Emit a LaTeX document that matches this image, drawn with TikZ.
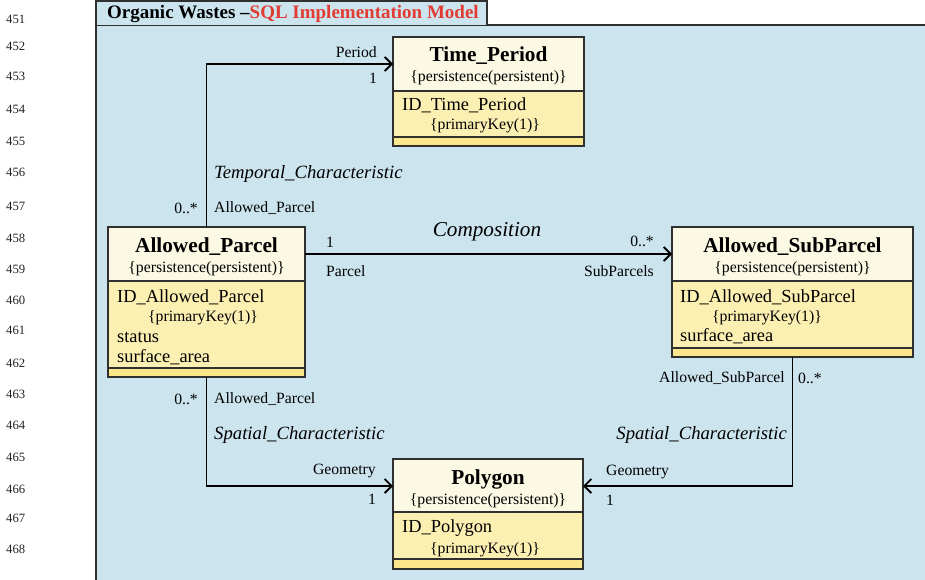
\documentclass[tikz,border=0pt]{standalone}
\usepackage{fontspec}
\setmainfont{Liberation Serif}
\usetikzlibrary{arrows.meta}
\definecolor{panelblue}{HTML}{CCE4EE}
\definecolor{headcream}{HTML}{FBF8E3}
\definecolor{attryellow}{HTML}{FCEFB2}
\definecolor{opsyellow}{HTML}{FCE68C}
\definecolor{edgegray}{HTML}{303030}
\definecolor{titlered}{HTML}{E23B33}
\definecolor{numgray}{HTML}{222222}
\tikzset{
  boxline/.style={draw=edgegray, line width=1.3pt},
  clsname/.style={font=\fontsize{21.3}{23}\selectfont\bfseries, inner sep=0pt, yshift=-1.5pt},
  stereo/.style={font=\fontsize{15.8}{17}\selectfont, inner sep=0pt, yshift=-1.5pt},
  attr/.style={font=\fontsize{18.4}{20}\selectfont, inner sep=0pt, anchor=west, yshift=-1.5pt},
  lbl/.style={font=\fontsize{15.7}{17}\selectfont, inner sep=0pt, yshift=-1.5pt},
  role/.style={font=\fontsize{18.7}{20}\selectfont\itshape, inner sep=0pt, yshift=-1.5pt},
  conn/.style={draw=black, line width=1.8pt, -{Straight Barb[length=7pt,width=14pt,line width=1.8pt]}},
  linenum/.style={font=\fontsize{12.7}{14}\selectfont, text=numgray, inner sep=0pt, anchor=west},
  frame/.style={inner sep=0pt, outer sep=0pt, anchor=north west}
}
% generic class drawer: #1 name, #2 x1, #3 y1, #4 x2, #5 y2, #6 div1, #7 div2
\newcommand{\umlbox}[7]{%
  \fill[headcream] (#2,#3) rectangle (#4,#6);
  \fill[attryellow] (#2,#6) rectangle (#4,#7);
  \fill[opsyellow] (#2,#7) rectangle (#4,#5);
  \draw[boxline] (#2,#6) -- (#4,#6);
  \draw[boxline] (#2,#7) -- (#4,#7);
  \draw[boxline] (#2,#3) rectangle (#4,#5);
  \node[frame, minimum width={#4-#2}, minimum height={#5-#3}] (#1) at (#2,#3) {};
}
\begin{document}
\begin{tikzpicture}[x=1pt,y=-1pt]
\useasboundingbox (0,0) rectangle (925,579);
\fill[white] (0,0) rectangle (925,579);
% line numbers
\foreach \n/\yy in {451/19,452/46,453/76,454/109,455/141,456/172,457/206,458/238,459/269,460/300,461/330,462/363,463/394,464/425,465/457,466/489,467/518,468/549}
  \node[linenum] (ln\n) at (6,\yy) {\n};
% panel
\fill[panelblue] (96,25) rectangle (930,585);
\draw[edgegray, line width=1.6pt] (96,585) -- (96,25) -- (930,25);
% title tab
\filldraw[fill=panelblue, draw=edgegray, line width=1.6pt] (96,25) -- (96,1) -- (487,1) -- (487,25);
\node[font=\fontsize{19}{21}\selectfont\bfseries, anchor=west, inner sep=0pt] (title) at (107,14)
  {Organic Wastes \textendash\textcolor{titlered}{SQL Implementation Model}};

% Time_Period
\umlbox{tp}{393}{37}{584}{146}{91}{137}
\node[clsname] (tpn) at (488.5,54) {Time\_Period};
\node[stereo] (tps) at (488.5,76) {\{persistence(persistent)\}};
\node[attr] (tpa) at (402,104) {ID\_Time\_Period};
\node[stereo] (tpk) at (485,124) {\{primaryKey(1)\}};

% Allowed_Parcel
\umlbox{ap}{108}{227}{305}{377}{281}{368}
\node[clsname] (apn) at (206.5,245) {Allowed\_Parcel};
\node[stereo] (aps) at (206.5,267) {\{persistence(persistent)\}};
\node[attr] (apa1) at (117,296) {ID\_Allowed\_Parcel};
\node[stereo] (apk) at (203,316) {\{primaryKey(1)\}};
\node[attr] (apa2) at (117,336) {status};
\node[attr] (apa3) at (117,356) {surface\_area};

% Allowed_SubParcel
\umlbox{as}{672}{227}{913}{357}{281}{348}
\node[clsname] (asn) at (792.5,245) {Allowed\_SubParcel};
\node[stereo] (ass) at (792.5,267) {\{persistence(persistent)\}};
\node[attr] (asa1) at (680,296) {ID\_Allowed\_SubParcel};
\node[stereo] (ask) at (767,316) {\{primaryKey(1)\}};
\node[attr] (asa2) at (680,335) {surface\_area};

% Polygon
\umlbox{pg}{393}{459}{583}{569}{512}{559}
\node[clsname] (pgn) at (488,478) {Polygon};
\node[stereo] (pgs) at (488,499) {\{persistence(persistent)\}};
\node[attr] (pga) at (402,527) {ID\_Polygon};
\node[stereo] (pgk) at (485,548) {\{primaryKey(1)\}};

% connectors
\draw[conn] (ap.north) |- ([yshift=-27pt]tp.north west);
\draw[conn] ([yshift=-27pt]ap.north east) -- ([yshift=-27pt]as.north west);
\draw[conn] (ap.south) |- ([yshift=-27pt]pg.north west);
\draw[conn] (as.south) |- ([yshift=-27pt]pg.north east);

% labels: temporal
\node[lbl, anchor=east] (l1) at (377,51) {Period};
\node[lbl] (l2) at (373,77) {1};
\node[role, anchor=west] (l3) at (214,172) {Temporal\_Characteristic};
\node[lbl, anchor=east] (l4) at (198,207) {0..*};
\node[lbl, anchor=west] (l5) at (214,207) {Allowed\_Parcel};
% labels: composition
\node[lbl] (l6) at (330,241) {1};
\node[lbl, anchor=west] (l7) at (326,270) {Parcel};
\node[font=\fontsize{21.2}{23}\selectfont\itshape, inner sep=0pt, yshift=-1.5pt] (l8) at (487,230) {Composition};
\node[lbl, anchor=east] (l9) at (654,240) {0..*};
\node[lbl, anchor=east] (l10) at (654,270) {SubParcels};
% labels: spatial left
\node[lbl, anchor=east] (l11) at (198,398) {0..*};
\node[lbl, anchor=west] (l12) at (214,398) {Allowed\_Parcel};
\node[role, anchor=west] (l13) at (214,433) {Spatial\_Characteristic};
\node[lbl, anchor=east] (l14) at (376,469) {Geometry};
\node[lbl] (l15) at (372,498) {1};
% labels: spatial right
\node[lbl, anchor=east] (l16) at (785,377) {Allowed\_SubParcel};
\node[lbl, anchor=west] (l17) at (798,377) {0..*};
\node[role, anchor=east] (l18) at (787,433) {Spatial\_Characteristic};
\node[lbl, anchor=west] (l19) at (606,470) {Geometry};
\node[lbl] (l20) at (610,499) {1};
\end{tikzpicture}
\end{document}
